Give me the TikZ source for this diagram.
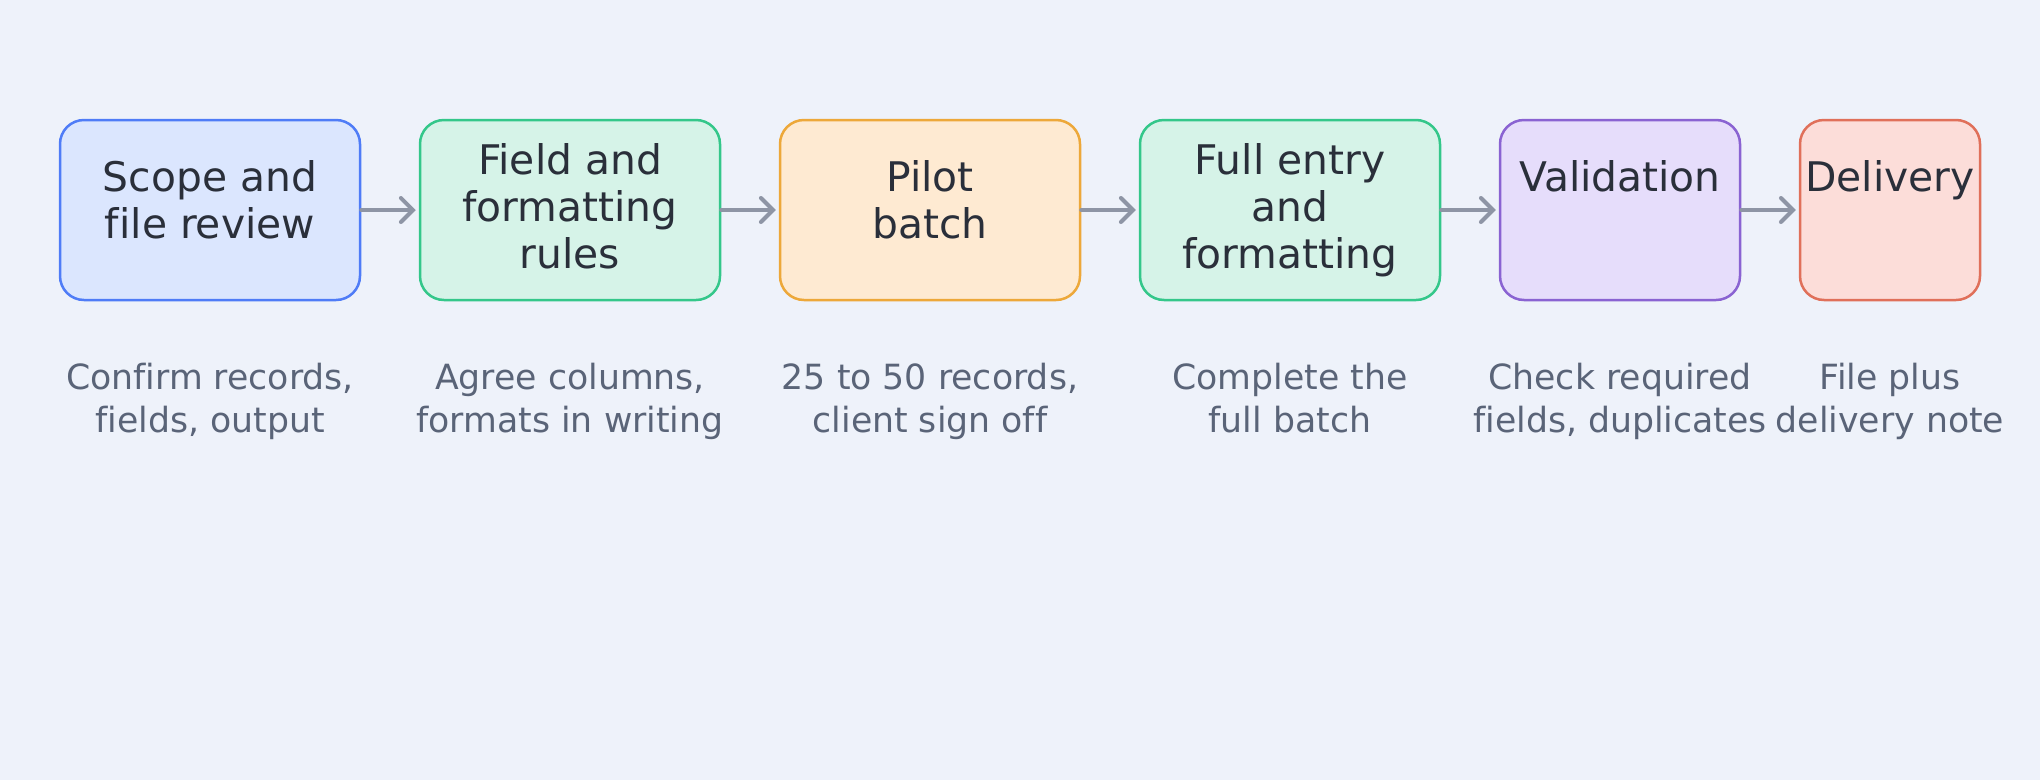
\documentclass[tikz,border=0pt]{standalone}
\usepackage{fontspec}
\setmainfont[Ligatures=NoCommon]{DejaVu Sans}
\usetikzlibrary{arrows.meta}
\definecolor{bg}{HTML}{EEF2FA}
\definecolor{txt}{HTML}{2A2F3A}
\definecolor{subtxt}{HTML}{5A6478}
\definecolor{arr}{HTML}{8E95A5}
\definecolor{bluef}{HTML}{DBE6FE}\definecolor{blued}{HTML}{4F7CF7}
\definecolor{greenf}{HTML}{D6F3E8}\definecolor{greend}{HTML}{34C78A}
\definecolor{orangef}{HTML}{FEEAD2}\definecolor{oranged}{HTML}{EDA83A}
\definecolor{purplef}{HTML}{E6DDFB}\definecolor{purpled}{HTML}{8A63D2}
\definecolor{redf}{HTML}{FCDDD9}\definecolor{redd}{HTML}{E0705A}
\tikzset{
  stepbox/.style={draw=#1d, fill=#1f, rectangle, rounded corners=24pt, line width=2.5pt, minimum height=180pt, inner sep=0pt},
  boxlabel/.style={text=txt, align=center, anchor=base, inner sep=0pt, font=\fontsize{40.8}{47}\selectfont},
  sublabel/.style={text=subtxt, align=center, anchor=base, inner sep=0pt, font=\fontsize{34.7}{42.5}\selectfont},
  flow/.style={draw=arr, line width=4pt, line cap=round, shorten >=3pt, -{Straight Barb[length=12pt,width=24pt,line cap=round]}}
}
\begin{document}
\begin{tikzpicture}[x=1pt,y=-1pt]
\path[fill=bg] (0,0) rectangle (2040,780);
\useasboundingbox (0,0) rectangle (2040,780);
\node[stepbox=blue, minimum width=300pt] (b1) at (210,210) {};
\node[stepbox=green, minimum width=300pt] (b2) at (570,210) {};
\node[stepbox=orange, minimum width=300pt] (b3) at (930,210) {};
\node[stepbox=green, minimum width=300pt] (b4) at (1290,210) {};
\node[stepbox=purple, minimum width=240pt] (b5) at (1620,210) {};
\node[stepbox=red, minimum width=180pt] (b6) at (1890,210) {};
\node[boxlabel] (t1) at (210,238.5) {Scope and\\file review};
\node[boxlabel] (t2) at (570,268) {Field and\\formatting\\rules};
\node[boxlabel] (t3) at (930,238.5) {Pilot\\batch};
\node[boxlabel] (t4) at (1290,268) {Full entry\\and\\formatting};
\node[boxlabel] (t5) at (1620,191.7) {Validation};
\node[boxlabel] (t6) at (1890,191.7) {Delivery};
\node[sublabel] (s1) at (210,432) {Confirm records,\\fields, output};
\node[sublabel] (s2) at (570,432) {Agree columns,\\formats in writing};
\node[sublabel] (s3) at (930,432) {25 to 50 records,\\client sign off};
\node[sublabel] (s4) at (1290,432) {Complete the\\full batch};
\node[sublabel] (s5) at (1620,432) {Check required\\fields, duplicates};
\node[sublabel] (s6) at (1890,432) {File plus\\delivery note};
\draw[flow] (b1.east) -- (b2.west);
\draw[flow] (b2.east) -- (b3.west);
\draw[flow] (b3.east) -- (b4.west);
\draw[flow] (b4.east) -- (b5.west);
\draw[flow] (b5.east) -- (b6.west);
\end{tikzpicture}
\end{document}
